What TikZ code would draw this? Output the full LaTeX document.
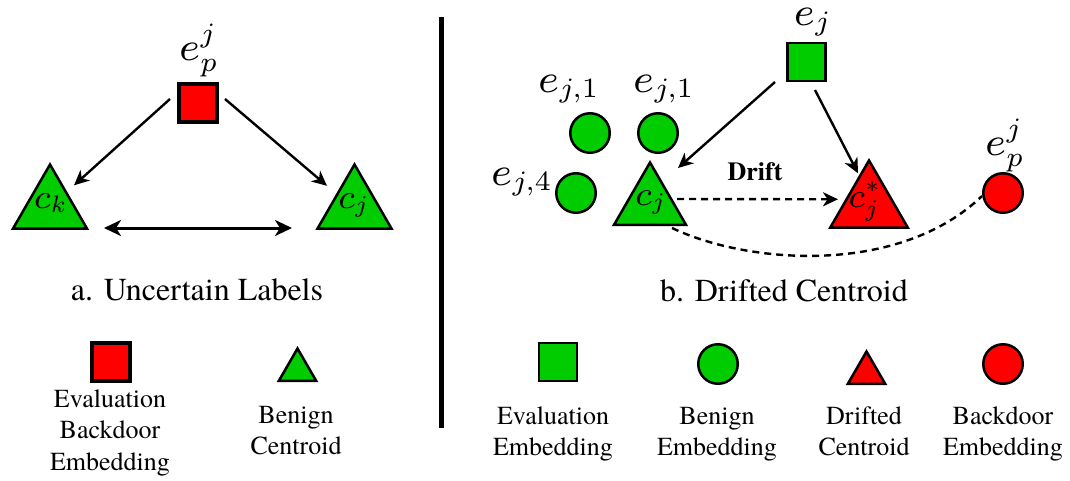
\documentclass[tikz,border=0pt]{standalone}
\usepackage[no-math]{fontspec}
\IfFontExistsTF{texgyretermes-regular.otf}
  {\setmainfont{texgyretermes-regular.otf}[BoldFont=texgyretermes-bold.otf]}
  {\setmainfont{Liberation Serif}}
\DeclareFontShape{OML}{cmm}{m}{it}{<->cmmi7}{}
\DeclareFontShape{OT1}{cmr}{m}{n}{<->cmr7}{}
\DeclareFontShape{OMS}{cmsy}{m}{n}{<->cmsy7}{}
\usetikzlibrary{arrows.meta,calc,shapes.geometric}
\definecolor{gr}{RGB}{0,204,0}
\definecolor{rd}{RGB}{255,0,0}
\begin{document}
\begin{tikzpicture}[x=1pt,y=-1pt,
  shp/.style={draw=black, line width=2.5pt, inner sep=0pt, outer sep=0pt},
  sq/.style={shp, rectangle, minimum size=38pt},
  sqthick/.style={sq, line width=4pt},
  circ/.style={shp, circle, minimum size=39.5pt},
  tri/.style={shp, regular polygon, regular polygon sides=3},
  mlab/.style={font=\fontsize{40}{48}\selectfont, anchor=base, inner sep=0pt},
  clab/.style={font=\fontsize{34}{42}\selectfont, anchor=base, inner sep=0pt},
  arr/.style={line width=2.4pt, -{Stealth[length=15pt,width=14pt,inset=4.5pt]}},
  darr/.style={line width=3pt, {Stealth[length=17pt,width=16pt,inset=5pt]}-{Stealth[length=17pt,width=16pt,inset=5pt]}},
  dsh/.style={line width=2.4pt, dash pattern=on 7pt off 5pt},
  dsharr/.style={dsh, -{Stealth[length=15pt,width=14pt,inset=4.5pt]}},
  captxt/.style={font=\fontsize{32}{38}\selectfont, inner sep=0pt},
  leg/.style={font=\fontsize{26}{31.5}\selectfont, inner sep=0pt, anchor=base},
]
\useasboundingbox (0,0) rectangle (1070,480);

% ---------- panel a ----------
\node[sqthick, fill=rd] (ep) at (198,103) {};
\node[mlab] (eplab) at (198,60) {$e_p^j$};
\node[tri, fill=gr, minimum size=85.6pt] (ck) at (50,207.3) {};
\node[clab] (cklab) at (50,208) {$c_k$};
\node[tri, fill=gr, minimum size=85.6pt] (cja) at (354.5,207.3) {};
\node[clab] (cjalab) at (353,208) {$c_j$};

\draw[arr] ($(ep.center)+(-28,-4)$) -- ($(ck.center)+(24,-22)$);
\draw[arr] ($(ep.center)+(27,-4)$) -- ($(cja.center)+(-27.5,-21.5)$);
\draw[darr] ($(ck.center)+(54,20.7)$) -- ($(cja.center)+(-62.5,20.7)$);

\node[captxt] (capa) at (197,290) {a. Uncertain Labels};

% legend a
\node[sqthick, fill=rd] (lga1) at (111,362) {};
\node[leg] (lga1t) at (110,407) {\begin{tabular}[t]{@{}c@{}}Evaluation\\Backdoor\\Embedding\end{tabular}};
\node[tri, fill=gr, minimum size=43pt] (lga2) at (297.5,370) {};
\node[leg] (lga2t) at (296,423) {\begin{tabular}[t]{@{}c@{}}Benign\\Centroid\end{tabular}};

% divider
\draw[line width=5pt] (441,17) -- (441,428);

% ---------- panel b ----------
\node[sq, fill=gr] (ej) at (806.5,62) {};
\node[mlab] (ejlab) at (812,25) {$e_j$};

\node[circ, fill=gr] (b1) at (590,133) {};
\node[circ, fill=gr] (b2) at (658,133) {};
\node[circ, fill=gr] (b4) at (576,193) {};
\node[mlab] (b1lab) at (568,92) {$e_{j,1}$};
\node[mlab] (b2lab) at (663,92) {$e_{j,1}$};
\node[mlab] (b4lab) at (521,185) {$e_{j,4}$};

\node[tri, fill=gr, minimum size=83pt] (cjb) at (650,204) {};
\node[clab] (cjblab) at (650,205) {$c_j$};
\node[tri, fill=rd, minimum size=89.7pt] (cs) at (869,205.3) {};
\node[clab] (cslab) at (864,207) {$c_j^*$};

\node[circ, fill=rd] (pc) at (1003,193) {};
\node[mlab] (pclab) at (1004,155) {$e_p^j$};

\draw[arr] ($(ej.center)+(-31.5,20)$) -- ($(cjb.center)+(28,-36)$);
\draw[arr] ($(ej.center)+(8.5,28)$) -- ($(cs.center)+(-11,-32)$);
\draw[dsharr] ($(cjb.center)+(27,-5)$) -- ($(cs.center)+(-31,-6)$);
\node[font=\bfseries\fontsize{26}{31}\selectfont, inner sep=0pt] (drift) at (755,172) {Drift};
\draw[dsh] ($(cjb.center)+(22,24)$) .. controls (750,265) and (900,275) .. ($(pc.center)+(-21,3)$);

\node[captxt] (capb) at (784,291) {b. Drifted Centroid};

% legend b
\node[sq, fill=gr] (lgb1) at (558,362) {};
\node[leg] (lgb1t) at (553,424) {\begin{tabular}[t]{@{}c@{}}Evaluation\\Embedding\end{tabular}};
\node[circ, fill=gr] (lgb2) at (718,364) {};
\node[leg] (lgb2t) at (717,424) {\begin{tabular}[t]{@{}c@{}}Benign\\Embedding\end{tabular}};
\node[tri, fill=rd, minimum size=43pt] (lgb3) at (866.5,373) {};
\node[leg] (lgb3t) at (864,424) {\begin{tabular}[t]{@{}c@{}}Drifted\\Centroid\end{tabular}};
\node[circ, fill=rd] (lgb4) at (1003,364) {};
\node[leg] (lgb4t) at (1003,424) {\begin{tabular}[t]{@{}c@{}}Backdoor\\Embedding\end{tabular}};
\end{tikzpicture}
\end{document}
